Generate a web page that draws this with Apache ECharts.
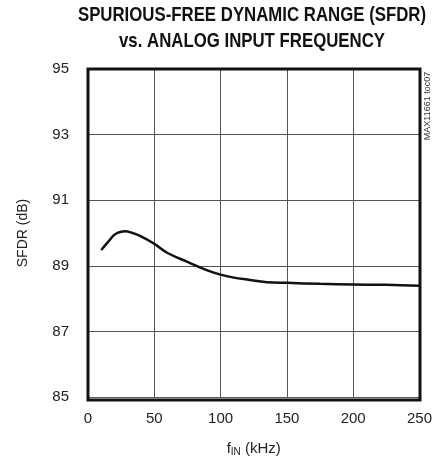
<!DOCTYPE html>
<html>
<head>
<meta charset="utf-8">
<script src="https://cdn.jsdelivr.net/npm/echarts@6/dist/echarts.min.js"></script>
<style>
  html, body { margin: 0; padding: 0; background: #fff; }
  #chart { width: 435px; height: 462px; }
</style>
</head>
<body>
<div id="chart"></div>
<script>
const freqKHz = [10, 15, 20, 25, 28, 32, 40, 50, 60, 75, 90, 100, 110, 120, 135, 150, 175, 200, 225, 250];
const sfdrDb = [89.48, 89.72, 89.95, 90.04, 90.05, 90.02, 89.9, 89.67, 89.39, 89.12, 88.86, 88.73, 88.64, 88.58, 88.5, 88.48, 88.45, 88.43, 88.42, 88.39];
const xTicks = [0, 50, 100, 150, 200, 250];
const yTicks = [85, 87, 89, 91, 93, 95];
const titleLines = ['SPURIOUS-FREE DYNAMIC RANGE (SFDR)', 'vs. ANALOG INPUT FREQUENCY'];

const font = '"Liberation Sans", Arial, sans-serif';
const chart = echarts.init(document.getElementById('chart'));

// title font in the original is a condensed bold face, so squeeze it horizontally
const titleText = titleLines.map((line, i) => ({
  type: 'text',
  x: 252,
  y: 5 + i * 26,
  scaleX: 0.8,
  style: { text: line, fontFamily: font, fontWeight: 'bold', fontSize: 21, fill: '#111', align: 'center', verticalAlign: 'top' },
}));

chart.setOption({
  animation: false,
  backgroundColor: '#fff',
  grid: { left: 88, top: 69, width: 332, height: 331, containLabel: false },
  xAxis: {
    type: 'value',
    min: xTicks[0],
    max: xTicks[xTicks.length - 1],
    interval: 50,
    name: '{a|f}{b|IN}{a| (kHz)}',
    nameLocation: 'middle',
    nameGap: 44,
    nameTextStyle: {
      rich: {
        a: { fontFamily: font, fontSize: 15, color: '#222' },
        b: { fontFamily: font, fontSize: 10, color: '#222', verticalAlign: 'bottom', padding: [6, 0, 0, 0] },
      },
    },
    axisLine: { show: false },
    axisTick: { show: false },
    axisLabel: { fontFamily: font, fontSize: 15, color: '#222', margin: 14 },
    splitLine: { show: true, lineStyle: { color: '#555', width: 1 } },
  },
  yAxis: {
    type: 'value',
    min: yTicks[0],
    max: yTicks[yTicks.length - 1],
    interval: 2,
    name: 'SFDR (dB)',
    nameLocation: 'middle',
    nameGap: 58,
    nameTextStyle: { fontFamily: font, fontSize: 14, color: '#222' },
    axisLine: { show: false },
    axisTick: { show: false },
    axisLabel: { fontFamily: font, fontSize: 15, color: '#222', margin: 19 },
    splitLine: { show: true, lineStyle: { color: '#555', width: 1 } },
  },
  graphic: [
    ...titleText,
    {
      type: 'rect',
      shape: { x: 88, y: 69, width: 332, height: 331 },
      style: { fill: 'none', stroke: '#111', lineWidth: 3 },
      z: 100,
    },
    {
      type: 'text',
      x: 428,
      y: 106,
      rotation: Math.PI / 2,
      style: { text: 'MAX11661 toc07', fontFamily: font, fontSize: 9, fill: '#333', align: 'center', verticalAlign: 'middle' },
    },
  ],
  series: [
    {
      type: 'line',
      data: freqKHz.map((f, i) => [f, sfdrDb[i]]),
      smooth: 0.4,
      showSymbol: false,
      lineStyle: { color: '#111', width: 2.5 },
    },
  ],
});
</script>
</body>
</html>
